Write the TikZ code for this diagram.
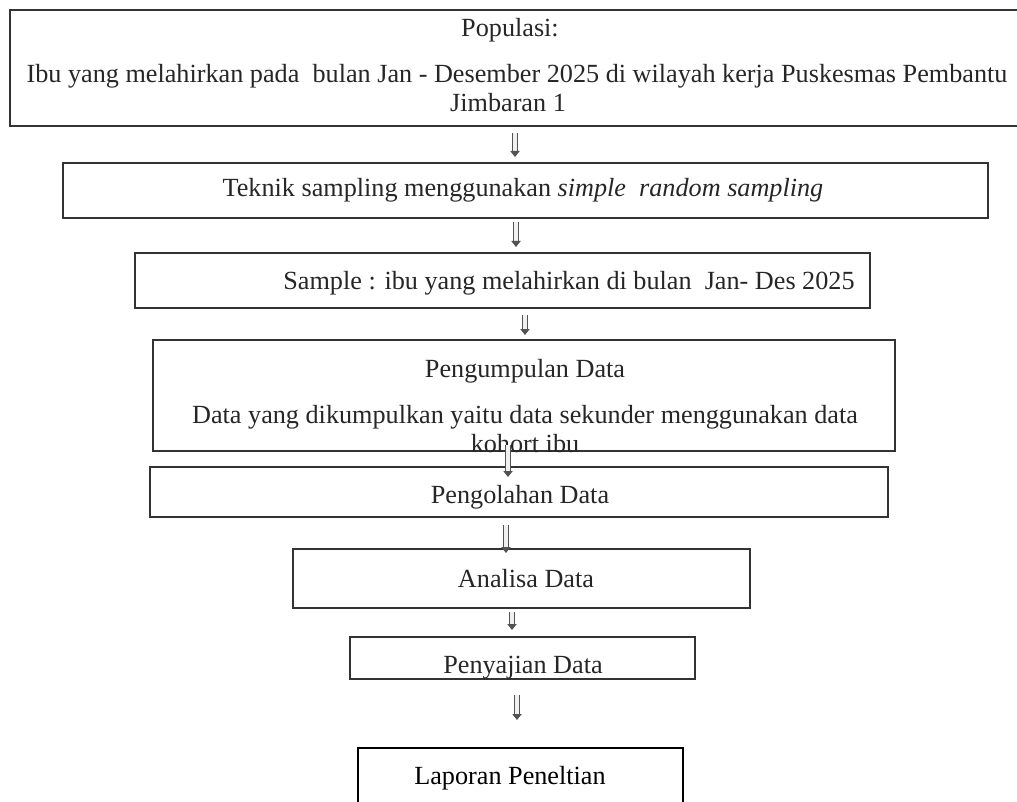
\documentclass[tikz,border=0pt]{standalone}
\usepackage{fontspec}
\setmainfont{Liberation Serif}
\usetikzlibrary{arrows.meta}
\usetikzlibrary{positioning}

\tikzset{
box/.style={draw=black!80, line width=1.2pt, inner sep=0pt, outer sep=0pt},
txt/.style={anchor=base, inner sep=0pt, text=black!85, font=\fontsize{13.1}{15}\selectfont},
blockarrow/.style={draw=gray!65!black, double=gray!12, double distance=1.6pt, line width=0.6pt, -{Triangle[length=3pt,width=4.6pt]}}
}

\begin{document}
\begin{tikzpicture}[x=0.5pt,y=-0.5pt]
\useasboundingbox (0,0) rectangle (1017,802);
\node[box, minimum width=510pt, minimum height=58pt] (pop) at (520,68) {};
\node[box, minimum width=462.5pt, minimum height=27.5pt] (tek) at (525.5,190.5) {};
\node[box, minimum width=367.5pt, minimum height=27.5pt] (smp) at (502.5,280.5) {};
\node[box, minimum width=371pt, minimum height=55.5pt] (kump) at (524,395.5) {};
\node[box, minimum width=369pt, minimum height=25pt] (olah) at (519,492) {};
\node[box, minimum width=228.5pt, minimum height=29.5pt] (anls) at (521.5,578.5) {};
\node[box, minimum width=172.5pt, minimum height=21pt] (saji) at (522.5,658) {};
\node[box, draw=black, line width=0.6pt, minimum width=162.5pt, minimum height=41pt] (lapor) at (520.5,789) {};

\node[txt] (popT1) at (510,37) {Populasi:};
\node[txt] (popT2) at (517,83) {Ibu yang melahirkan pada~ bulan Jan - Desember 2025 di wilayah kerja Puskesmas Pembantu};
\node[txt] (popT3) at (508,112) {Jimbaran 1};
\node[txt] (tekT) at (523,197) {Teknik sampling menggunakan \textit{simple~ random sampling}};
\node[txt] (smpT) at (569,290) {Sample : ibu yang melahirkan di bulan~ Jan- Des 2025};
\node[txt] (kumpT1) at (525,377) {Pengumpulan Data};
\node[txt] (kumpT2) at (525,423) {Data yang dikumpulkan yaitu data sekunder menggunakan data};
\node[txt] (kumpT3) at (525,452) {kohort ibu};
\node[txt] (olahT) at (520,503) {Pengolahan Data};
\node[txt] (anlsT) at (526,587) {Analisa Data};
\node[txt] (sajiT) at (523,673) {Penyajian Data};
\node[txt, text=black] (laporT) at (510,784) {Laporan Peneltian};

\draw[blockarrow, shorten <=3.5pt, shorten >=3pt] (pop.south -| 515,0) -- (tek.north -| 515,0);
\draw[blockarrow, shorten <=2pt, shorten >=3pt] (tek.south -| 516,0) -- (smp.north -| 516,0);
\draw[blockarrow, shorten <=3.5pt, shorten >=2.5pt] (smp.south -| 525,0) -- (kump.north -| 525,0);
\draw[blockarrow, shorten <=-3pt, shorten >=-5pt] (kump.south -| 508,0) -- (olah.north -| 508,0);
\draw[blockarrow, shorten <=4pt, shorten >=-2pt] (olah.south -| 506,0) -- (anls.north -| 506,0);
\draw[blockarrow, shorten <=2pt, shorten >=3.5pt] (anls.south -| 512,0) -- (saji.north -| 512,0);
\draw[blockarrow, shorten <=8pt, shorten >=14pt] (saji.south -| 517,0) -- (lapor.north -| 517,0);
\end{tikzpicture}
\end{document}
